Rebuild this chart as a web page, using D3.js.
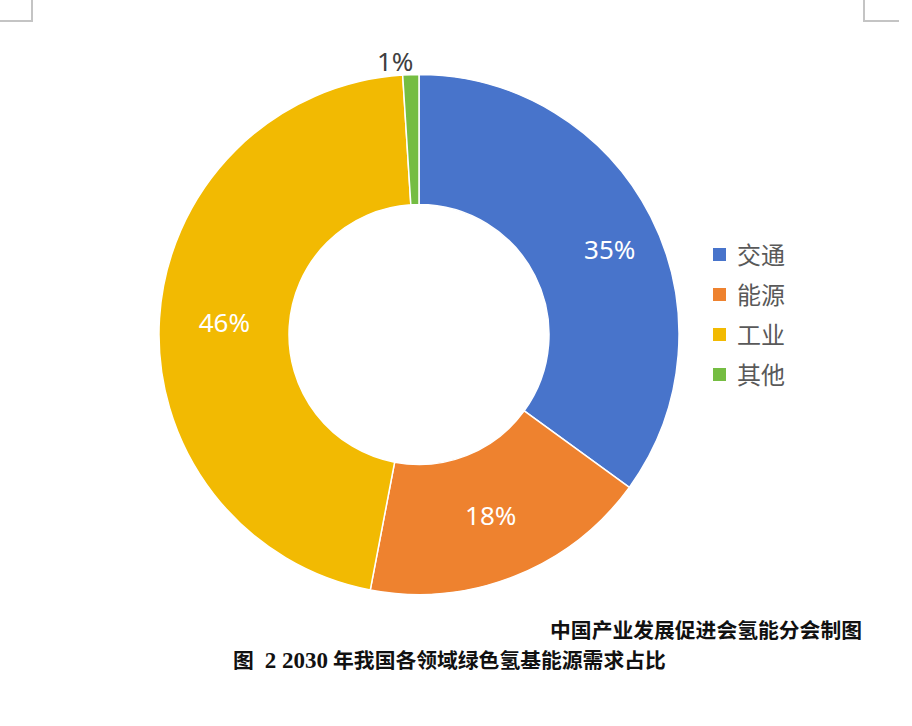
<!DOCTYPE html>
<html>
<head>
<meta charset="utf-8">
<script src="https://cdn.jsdelivr.net/npm/d3@7"></script>
<style>
  html, body { margin: 0; padding: 0; background: #fff; }
  svg { display: block; }
</style>
</head>
<body>
<svg id="chart" width="912" height="726"></svg>
<script>
// Share of green hydrogen-based energy demand by sector, 2030 (%)
const categories = ["交通", "能源", "工业", "其他"];
const shares = [35, 18, 46, 1];
const colors = ["#4874CB", "#EE822F", "#F2BA02", "#75BD42"];
const sourceNote = "中国产业发展促进会氢能分会制图";

const svg = d3.select("#chart");
const cx = 419, cy = 334.5;
const outerR = 260, innerR = 130;

// page crop marks
const marks = svg.append("g").attr("stroke", "#c4c4c4").attr("stroke-width", 2).attr("fill", "none");
marks.append("path").attr("d", "M32,0 V21 H0");
marks.append("path").attr("d", "M864,0 V21 H899");

const pie = d3.pie().sort(null).value(d => d.v);
const arcs = pie(categories.map((c, i) => ({ c, v: shares[i], color: colors[i] })));
const arc = d3.arc().innerRadius(innerR).outerRadius(outerR);

const g = svg.append("g").attr("transform", `translate(${cx},${cy})`);
g.selectAll("path.slice")
  .data(arcs)
  .join("path")
  .attr("class", "slice")
  .attr("d", arc)
  .attr("fill", d => d.data.color)
  .attr("stroke", "#ffffff")
  .attr("stroke-width", 1.5);

// value labels: inside the ring for large slices, above the ring for tiny ones
const labelArc = d3.arc().innerRadius(195).outerRadius(195);
const outsideArc = d3.arc().innerRadius(273).outerRadius(273);
const nudge = { "交通": [17, 4] };
g.selectAll("text.val")
  .data(arcs)
  .join("text")
  .attr("class", "val")
  .each(function (d) {
    const small = d.data.v < 5;
    const [x, y] = (small ? outsideArc : labelArc).centroid(d);
    const [dx, dy] = nudge[d.data.c] || [0, 0];
    d3.select(this)
      .attr("x", small ? x + 3 : x + dx)
      .attr("y", y + dy)
      .attr("text-anchor", small ? "end" : "middle")
      .attr("fill", small ? "#404040" : "#ffffff");
  })
  .attr("dy", "0.36em")
  .attr("font-family", "'Noto Sans', 'Open Sans', sans-serif")
  .attr("font-size", 26)
  .text(d => d.data.v + "%");

// legend
const legend = svg.append("g").attr("transform", "translate(713,255)");
const rows = legend.selectAll("g")
  .data(categories)
  .join("g")
  .attr("transform", (d, i) => `translate(0,${i * 40})`);
rows.append("rect")
  .attr("x", 0).attr("y", -7)
  .attr("width", 13).attr("height", 13)
  .attr("fill", (d, i) => colors[i]);
rows.append("text")
  .attr("x", 24).attr("y", 0)
  .attr("dy", "0.36em")
  .attr("font-family", "'Noto Sans CJK SC', sans-serif")
  .attr("font-size", 24)
  .attr("fill", "#595959")
  .text(d => d);

// source note and figure caption
svg.append("text")
  .attr("x", 862).attr("y", 638)
  .attr("text-anchor", "end")
  .attr("font-family", "'Noto Sans CJK SC', sans-serif")
  .attr("font-weight", "bold")
  .attr("font-size", 20.8)
  .attr("fill", "#111")
  .text(sourceNote);

const cap = svg.append("text")
  .attr("x", 233).attr("y", 668)
  .attr("font-weight", "bold")
  .attr("font-size", 20.8)
  .attr("fill", "#111")
  .attr("font-family", "'Noto Sans CJK SC', sans-serif");
cap.append("tspan").text("图");
cap.append("tspan").attr("dx", 11).attr("font-family", "'Liberation Serif', serif").attr("font-size", 23).text("2 2030");
cap.append("tspan").attr("dx", 5).text("年我国各领域绿色氢基能源需求占比");
</script>
</body>
</html>
